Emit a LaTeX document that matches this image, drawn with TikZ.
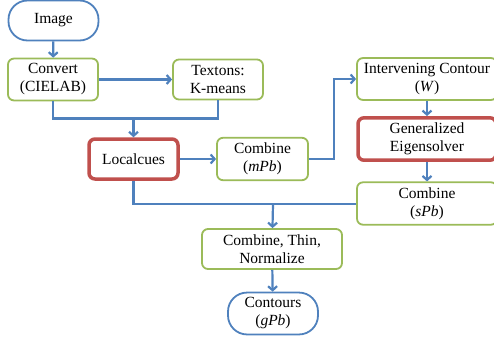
\documentclass[tikz,border=0pt]{standalone}
\usepackage{fontspec}
\setmainfont{Liberation Serif}
\usepackage{tikz}
\usetikzlibrary{arrows,arrows.meta,positioning,calc}
\definecolor{flowblue}{RGB}{79,129,189}
\definecolor{flowgreen}{RGB}{155,187,89}
\definecolor{flowred}{RGB}{192,80,77}
\tikzstyle{Gstep}=[shape=rectangle,draw=flowgreen,line width=1.8pt,rounded corners=6pt,fill=white,align=center,minimum height=40pt]
\tikzstyle{Rstep}=[shape=rectangle,draw=flowred,line width=3.5pt,rounded corners=6pt,fill=white,align=center,minimum height=40pt]
\tikzstyle{Term}=[shape=rectangle,draw=flowblue,line width=1.8pt,rounded corners=19pt,fill=white,align=center,minimum height=40pt]
\tikzstyle{flow}=[-{Straight Barb[length=4pt,width=9pt]},draw=flowblue,line width=2.2pt]
\tikzstyle{flowline}=[draw=flowblue,line width=2.2pt]

\begin{document}
\begin{tikzpicture}[x=1pt,y=1pt]
 \fontsize{15.5}{18}\selectfont
 \useasboundingbox (0,0) rectangle (494,-341);

\node[Term,minimum width=90pt] (img) at (53.5,-20.5){Image};
\node[Gstep,minimum width=90pt] (cielab) at (53,-79.5){Convert\\(CIELAB)};
\node[Gstep,minimum width=90pt] (texton) at (218,-79.5){Textons:\\K-means};
\node[Rstep,minimum width=89pt] (local) at (133.5,-159){Localcues};
\node[Gstep,minimum width=91pt] (mpb) at (262.5,-159){Combine\\(\textit{mPb})};

\node[Gstep,minimum width=140pt] (icont) at (427,-79){Intervening Contour\\(\textit{W})};
\node[Rstep,minimum width=138pt] (eigen) at (427,-139){Generalized\\Eigensolver};
\node[Gstep,minimum width=140pt] (spb) at (427,-203.5){Combine\\(\textit{sPb})};

\node[Gstep,minimum width=140pt] (thin) at (272,-249){Combine, Thin,\\Normalize};
\node[Term,minimum width=90pt] (gpb) at (273,-313.5){Contours\\(\textit{gPb})};

\coordinate (j1) at (133.5,-118.5);
\coordinate (j2) at (273,-204);

\draw[flow] (img) -- (cielab);
\draw[flow] (cielab) -- (texton);
\draw[flowline] (cielab.south) |- (j1) -| (texton.south);
\draw[flow] (j1) -- (local);
\draw[flow] (local) -- (mpb);
\draw[flow] (mpb.east) -- ++(25,0) |- (icont.west);
\draw[flow] (icont) -- (eigen);
\draw[flow] (eigen) -- (spb);
\draw[flowline] (local.south) |- (j2) -- (spb.west |- j2);
\draw[flow] (j2) -- (thin);
\draw[flow] (thin) -- (gpb);

\end{tikzpicture}
\end{document}
